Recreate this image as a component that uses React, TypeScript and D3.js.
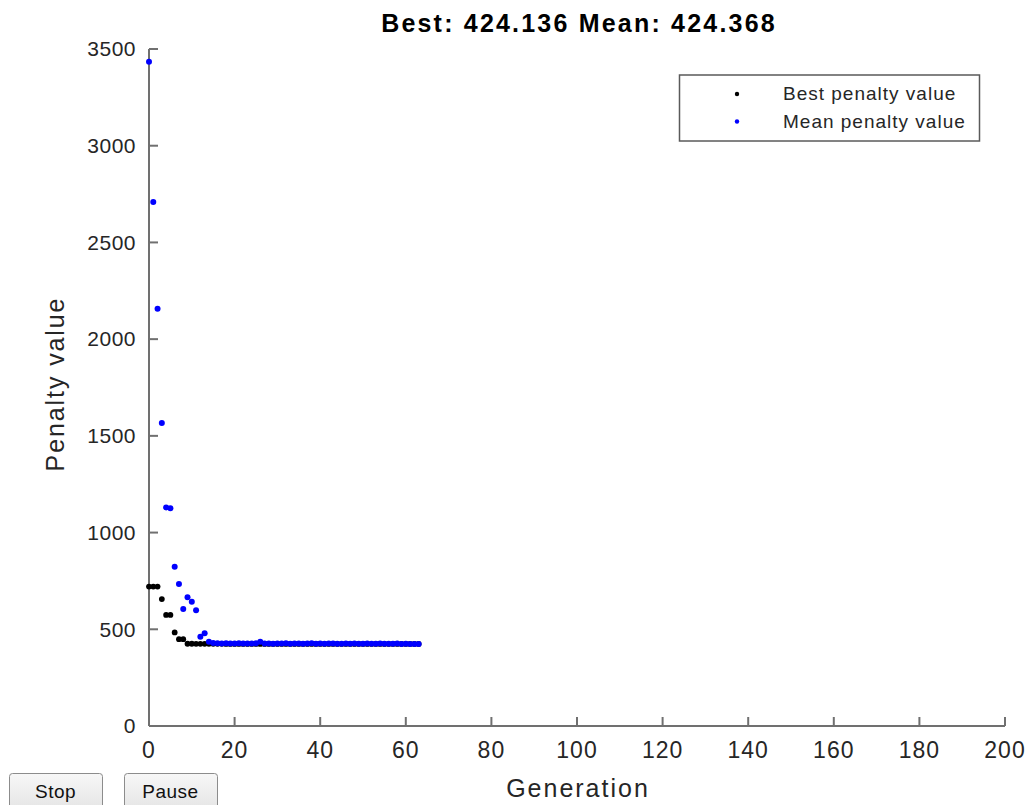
import React from "react";
import * as d3 from "d3";

// Genetic algorithm progress: best and mean penalty value per generation
const generations: number[] = d3.range(0, 64);

const bestPenalty: number[] = [
  721, 721, 721, 656, 574, 574, 484, 449, 449, 425.3,
  425.1, 424.9, 424.9, 424.8, 424.7, 424.7, 424.6, 424.6, 424.5, 424.5,
  424.5, 424.4, 424.4, 424.4, 424.4, 424.3, 424.3, 424.3, 424.3, 424.3,
  424.3, 424.2, 424.2, 424.2, 424.2, 424.2, 424.2, 424.2, 424.2, 424.2,
  424.2, 424.2, 424.2, 424.2, 424.2, 424.2, 424.14, 424.14, 424.14, 424.14,
  424.14, 424.14, 424.14, 424.14, 424.14, 424.14, 424.14, 424.14, 424.14, 424.14,
  424.136, 424.136, 424.136, 424.136,
];

const meanPenalty: number[] = [
  3434, 2709, 2157, 1566, 1130, 1126, 823, 734, 605, 665,
  642, 599, 461, 480, 436, 429, 428, 427, 428, 426,
  427, 428, 426, 427, 426, 428, 436, 427, 426, 425,
  427, 426, 428, 425, 426, 427, 425, 426, 428, 425,
  426, 425, 427, 426, 425, 424.9, 426, 425, 427, 425,
  424.8, 426, 425, 424.7, 426, 425, 424.6, 425, 426, 424.5,
  425, 424.5, 424.4, 424.368,
];

const xTicks: number[] = [0, 20, 40, 60, 80, 100, 120, 140, 160, 180, 200];
const yTicks: number[] = [0, 500, 1000, 1500, 2000, 2500, 3000, 3500];

const titleText = "Best: 424.136 Mean: 424.368";
const legendLabels = ["Best penalty value", "Mean penalty value"];
const seriesColors = ["#000000", "#0000ff"];

const W = 1030;
const H = 805;
const plot = { left: 149, right: 1005, top: 49, bottom: 726 };
const FONT = "'Liberation Sans', Arial, Helvetica, sans-serif";
const AXIS = "#707070";
const TEXT = "#262626";

export default function App() {
  const x = d3.scaleLinear().domain([0, 200]).range([plot.left, plot.right]);
  const y = d3.scaleLinear().domain([0, 3500]).range([plot.bottom, plot.top]);
  const tickLen = 9;

  const buttons = [
    { label: "Stop", x0: 9, x1: 102 },
    { label: "Pause", x0: 124, x1: 217 },
  ];

  return (
    <svg
      width={W}
      height={H}
      style={{ position: "absolute", left: 0, top: 0, background: "#ffffff" }}
      fontFamily={FONT}
    >
      <defs>
        <linearGradient id="btnFill" x1="0" y1="0" x2="0" y2="1">
          <stop offset="0" stopColor="#f7f7f7" />
          <stop offset="1" stopColor="#e3e3e3" />
        </linearGradient>
      </defs>
      <rect x={0} y={0} width={W} height={H} fill="#ffffff" />

      {/* title */}
      <text
        x={(plot.left + plot.right) / 2 + 2}
        y={32}
        textAnchor="middle"
        fontSize={25}
        fontWeight="bold"
        letterSpacing={2.2}
        fill="#000"
      >
        {titleText}
      </text>

      {/* axes */}
      <g stroke={AXIS} strokeWidth={2} fill="none">
        <line x1={plot.left} y1={plot.top} x2={plot.left} y2={plot.bottom} />
        <line x1={plot.left} y1={plot.bottom} x2={plot.right} y2={plot.bottom} />
        {yTicks.map((t) => (
          <line key={"yt" + t} x1={plot.left} x2={plot.left + tickLen} y1={y(t)} y2={y(t)} />
        ))}
        {xTicks.map((t) => (
          <line key={"xt" + t} x1={x(t)} x2={x(t)} y1={plot.bottom} y2={plot.bottom - tickLen} />
        ))}
      </g>

      {/* tick labels */}
      <g fill={TEXT}>
        {yTicks.map((t) => (
          <text
            key={"yl" + t}
            x={plot.left - 13}
            y={y(t)}
            dy="0.35em"
            textAnchor="end"
            fontSize={21}
            letterSpacing={0.5}
          >
            {t}
          </text>
        ))}
        {xTicks.map((t) => (
          <text
            key={"xl" + t}
            x={x(t)}
            y={758}
            textAnchor="middle"
            fontSize={23}
            letterSpacing={1}
          >
            {t}
          </text>
        ))}
      </g>

      {/* axis labels */}
      <text
        x={578}
        y={797}
        textAnchor="middle"
        fontSize={25}
        letterSpacing={2}
        fill={TEXT}
      >
        Generation
      </text>
      <text
        transform={`translate(64, ${384}) rotate(-90)`}
        textAnchor="middle"
        fontSize={25}
        letterSpacing={1.9}
        fill={TEXT}
      >
        Penalty value
      </text>

      {/* data points */}
      <g fill={seriesColors[0]}>
        {generations.map((g, i) => (
          <circle key={"b" + g} cx={x(g)} cy={y(bestPenalty[i])} r={2.9} />
        ))}
      </g>
      <g fill={seriesColors[1]}>
        {generations.map((g, i) => (
          <circle key={"m" + g} cx={x(g)} cy={y(meanPenalty[i])} r={3} />
        ))}
      </g>

      {/* legend */}
      <rect x={679.5} y={75} width={300} height={66} fill="#ffffff" stroke="#5a5a5a" strokeWidth={1.5} />
      {legendLabels.map((lab, i) => (
        <g key={lab}>
          <circle cx={737} cy={94 + i * 27.5} r={2.2} fill={seriesColors[i]} />
          <text x={783} y={100 + i * 27.5} fontSize={19} letterSpacing={1} fill={TEXT}>
            {lab}
          </text>
        </g>
      ))}

      {/* control buttons */}
      {buttons.map((b) => (
        <g key={b.label}>
          <rect
            x={b.x0 + 0.5}
            y={773.5}
            width={b.x1 - b.x0}
            height={40}
            rx={3}
            fill="url(#btnFill)"
            stroke="#8c8c8c"
            strokeWidth={1}
          />
          <text
            x={(b.x0 + b.x1) / 2}
            y={798}
            textAnchor="middle"
            fontSize={19}
            letterSpacing={0.5}
            fill="#111"
          >
            {b.label}
          </text>
        </g>
      ))}
    </svg>
  );
}
